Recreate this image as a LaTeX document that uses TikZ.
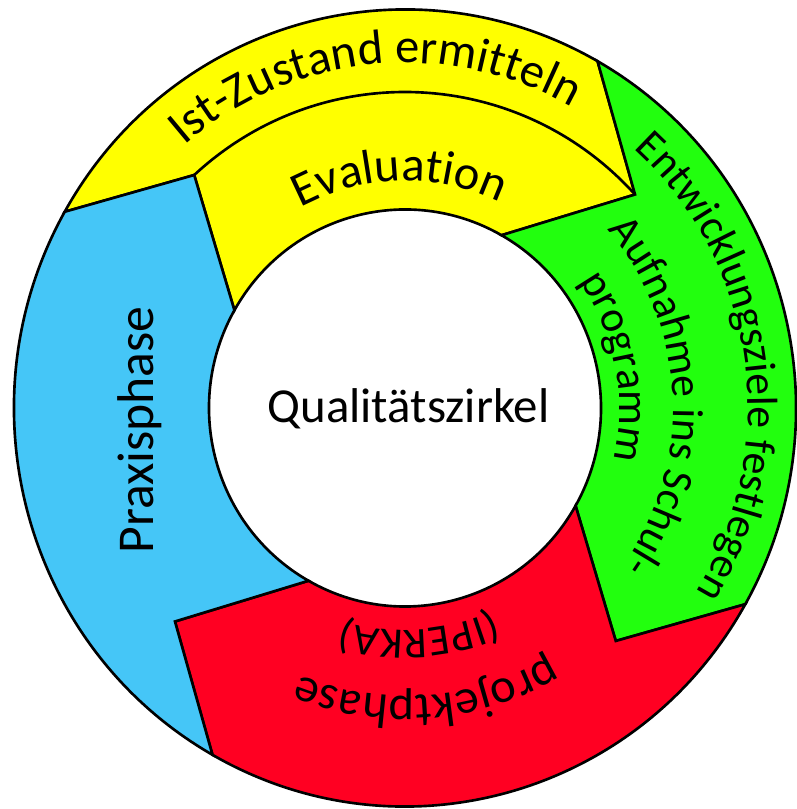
\documentclass[tikz,border=0pt]{standalone}
\usepackage{fontspec}
\setmainfont{Carlito}
\usetikzlibrary{decorations.text}
\definecolor{ringyellow}{RGB}{255,255,0}
\definecolor{ringgreen}{RGB}{34,255,14}
\definecolor{ringblue}{RGB}{69,198,247}
\definecolor{ringred}{RGB}{255,0,34}
\newcommand{\ringfont}{\fontsize{13.8}{16}\selectfont}
\newcommand{\greenfont}{\fontsize{12.4}{14}\selectfont}
\newcommand{\praxfont}{\fontsize{14.7}{17}\selectfont}
\tikzset{
  segment/.style={draw=black, line width=0.75pt, line join=miter},
  outerring/.style={x radius=3.91, y radius=3.985},
  midring/.style={x radius=3.12, y radius=3.16},
  innerring/.style={x radius=1.96, y radius=1.985},
  curvedlabel/.style={decorate, decoration={text along path, text align=center, text={#1}}},
}
\begin{document}
\begin{tikzpicture}
      \useasboundingbox (-4.05,-4.01) rectangle (3.91,4.08);
      \filldraw[segment, fill=ringyellow]
        (150.5:3.91 and 3.985) arc[start angle=150.5, end angle=60.5, outerring]
        -- (42.5:3.12 and 3.16) -- (60.5:1.96 and 1.985)
        arc[start angle=60.5, end angle=150.5, innerring]
        -- (132.5:3.12 and 3.16) -- cycle;
      \filldraw[segment, fill=ringgreen]
        (60.5:3.91 and 3.985) arc[start angle=60.5, end angle=-29.5, outerring]
        -- (-47.5:3.12 and 3.16) -- (-29.5:1.96 and 1.985)
        arc[start angle=-29.5, end angle=60.5, innerring]
        -- (42.5:3.12 and 3.16) -- cycle;
      \filldraw[segment, fill=ringred]
        (-29.5:3.91 and 3.985) arc[start angle=-29.5, end angle=-119.5, outerring]
        -- (-137.5:3.12 and 3.16) -- (-119.5:1.96 and 1.985)
        arc[start angle=-119.5, end angle=-29.5, innerring]
        -- (-47.5:3.12 and 3.16) -- cycle;
      \filldraw[segment, fill=ringblue]
        (-119.5:3.91 and 3.985) arc[start angle=-119.5, end angle=-209.5, outerring]
        -- (-227.5:3.12 and 3.16) -- (-209.5:1.96 and 1.985)
        arc[start angle=-209.5, end angle=-119.5, innerring]
        -- (-137.5:3.12 and 3.16) -- cycle;
      \draw[segment] (132.5:3.12 and 3.16) arc[start angle=132.5, end angle=42.5, midring];

      \node[anchor=base] (zirkel) at (0.035,-0.15) {\fontsize{13.9}{16}\selectfont Qualitätszirkel};
      \node[anchor=base, rotate=90] (praxis) at (-2.52,-0.22) {\praxfont Praxisphase};

      \path[curvedlabel={|\ringfont|Ist-Zustand ermitteln}]
        (155.5:3.40 and 3.45) arc[start angle=155.5, end angle=35.5, x radius=3.40, y radius=3.45];
      \path[curvedlabel={|\ringfont|Evaluation}]
        (151.4:2.24 and 2.27) arc[start angle=151.4, end angle=31.4, x radius=2.24, y radius=2.27];
      \path[curvedlabel={|\greenfont|Entwicklungsziele festlegen}]
        (68.2:3.43 and 3.48) arc[start angle=68.2, end angle=-51.8, x radius=3.43, y radius=3.48];
      \path[curvedlabel={|\greenfont|Aufnahme ins Schul-}]
        (62.8:2.68 and 2.72) arc[start angle=62.8, end angle=-57.2, x radius=2.68, y radius=2.72];
      \path[curvedlabel={|\greenfont|programm}]
        (71:2.14 and 2.17) arc[start angle=71, end angle=-49, x radius=2.14, y radius=2.17];
      \path[curvedlabel={|\ringfont|projektphase}]
        (-25.6:2.84 and 2.88) arc[start angle=-25.6, end angle=-145.6, x radius=2.84, y radius=2.88];
      \path[curvedlabel={|\greenfont|(IPERKA)}]
        (-26.5:2.19 and 2.22) arc[start angle=-26.5, end angle=-146.5, x radius=2.19, y radius=2.22];
\end{tikzpicture}
\end{document}
